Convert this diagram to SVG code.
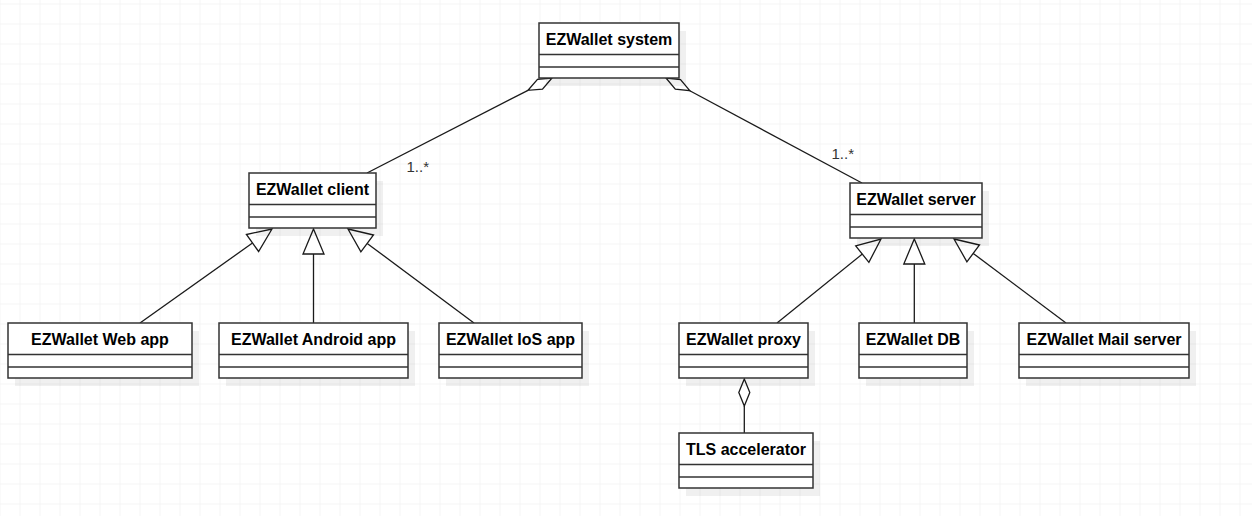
<svg xmlns="http://www.w3.org/2000/svg" width="1252" height="516" viewBox="0 0 1252 516">
<defs>
<pattern id="grid" x="19.5" y="3.5" width="20" height="20" patternUnits="userSpaceOnUse">
<path d="M0 0H20M0 0V20" fill="none" stroke="#ebebeb" stroke-width="1"/>
</pattern>
<style>
.box{fill:#fff;stroke:#333;stroke-width:1.5}
.shadow{fill:#000;fill-opacity:0.06}
.div{stroke:#333;stroke-width:1.5}
.t{font-family:"Liberation Sans",Arial,sans-serif;font-size:16px;font-weight:bold;fill:#000;text-anchor:middle}
.lbl{font-family:"Liberation Sans",Arial,sans-serif;font-size:15px;fill:#333}
.ln{fill:none;stroke:#1a1a1a;stroke-width:1.3}
.head{fill:#fff;stroke:#1a1a1a;stroke-width:1.3;stroke-linejoin:miter}
</style>
</defs>
<rect x="0" y="0" width="1252" height="516" fill="#fff"/>
<rect x="0" y="0" width="1252" height="516" fill="url(#grid)"/>

<g id="connectors">
<!-- aggregation system - client -->
<line class="ln" x1="367" y1="173" x2="528" y2="90.3"/>
<polygon class="head" points="552,78 537.5,79.3 528,90.3 542.5,89.1"/>
<!-- aggregation system - server -->
<line class="ln" x1="862" y1="183" x2="689.8" y2="90.7"/>
<polygon class="head" points="666,78 680.5,79.6 689.8,90.7 675.3,89.2"/>
<!-- generalization to client -->
<line class="ln" x1="140" y1="323" x2="252.5" y2="243"/>
<polygon class="head" points="272,229 258.6,251.5 246.4,234.5"/>
<line class="ln" x1="313.5" y1="323" x2="313.5" y2="254"/>
<polygon class="head" points="313.5,229 324,254 303,254"/>
<line class="ln" x1="474" y1="323" x2="367.2" y2="243.4"/>
<polygon class="head" points="348,229 373.5,235 360.9,251.8"/>
<!-- generalization to server -->
<line class="ln" x1="777" y1="323" x2="862.3" y2="254.1"/>
<polygon class="head" points="881,239 868.9,262.3 855.7,245.9"/>
<line class="ln" x1="914.3" y1="323" x2="914.3" y2="264"/>
<polygon class="head" points="914.3,239 924.8,264 903.8,264"/>
<line class="ln" x1="1066" y1="323" x2="973.2" y2="253.4"/>
<polygon class="head" points="954,239 979.5,245 966.9,261.8"/>
<!-- aggregation proxy - TLS -->
<line class="ln" x1="744.3" y1="406" x2="744.3" y2="433"/>
<polygon class="head" points="744.3,379 749.8,392.5 744.3,406 738.8,392.5"/>
<text class="lbl" x="406.5" y="171.5">1..*</text>
<text class="lbl" x="831.5" y="158.5">1..*</text>
</g>

<g id="system">
<rect class="shadow" x="546" y="31" width="140" height="55"/>
<rect class="box" x="539" y="23" width="140" height="55"/>
<line class="div" x1="539" y1="54.5" x2="679" y2="54.5"/><line class="div" x1="539" y1="67" x2="679" y2="67"/>
<text class="t" x="609" y="44.5">EZWallet system</text>
</g>
<g id="client">
<rect class="shadow" x="256" y="181" width="127" height="55"/>
<rect class="box" x="249" y="173" width="127" height="55"/>
<line class="div" x1="249" y1="204.5" x2="376" y2="204.5"/><line class="div" x1="249" y1="217" x2="376" y2="217"/>
<text class="t" x="312.5" y="194.5">EZWallet client</text>
</g>
<g id="server">
<rect class="shadow" x="857" y="191" width="132" height="55"/>
<rect class="box" x="850" y="183" width="132" height="55"/>
<line class="div" x1="850" y1="214.5" x2="982" y2="214.5"/><line class="div" x1="850" y1="227" x2="982" y2="227"/>
<text class="t" x="916" y="204.5">EZWallet server</text>
</g>
<g id="webapp">
<rect class="shadow" x="15" y="331" width="184" height="55"/>
<rect class="box" x="8" y="323" width="184" height="55"/>
<line class="div" x1="8" y1="354.5" x2="192" y2="354.5"/><line class="div" x1="8" y1="367" x2="192" y2="367"/>
<text class="t" x="100" y="344.5">EZWallet Web app</text>
</g>
<g id="androidapp">
<rect class="shadow" x="226" y="331" width="189" height="55"/>
<rect class="box" x="219" y="323" width="189" height="55"/>
<line class="div" x1="219" y1="354.5" x2="408" y2="354.5"/><line class="div" x1="219" y1="367" x2="408" y2="367"/>
<text class="t" x="313.5" y="344.5">EZWallet Android app</text>
</g>
<g id="iosapp">
<rect class="shadow" x="446" y="331" width="143" height="55"/>
<rect class="box" x="439" y="323" width="143" height="55"/>
<line class="div" x1="439" y1="354.5" x2="582" y2="354.5"/><line class="div" x1="439" y1="367" x2="582" y2="367"/>
<text class="t" x="510.5" y="344.5">EZWallet IoS app</text>
</g>
<g id="proxy">
<rect class="shadow" x="686" y="331" width="129" height="55"/>
<rect class="box" x="679" y="323" width="129" height="55"/>
<line class="div" x1="679" y1="354.5" x2="808" y2="354.5"/><line class="div" x1="679" y1="367" x2="808" y2="367"/>
<text class="t" x="743.5" y="344.5">EZWallet proxy</text>
</g>
<g id="db">
<rect class="shadow" x="866" y="331" width="108" height="55"/>
<rect class="box" x="859" y="323" width="108" height="55"/>
<line class="div" x1="859" y1="354.5" x2="967" y2="354.5"/><line class="div" x1="859" y1="367" x2="967" y2="367"/>
<text class="t" x="913" y="344.5">EZWallet DB</text>
</g>
<g id="mailserver">
<rect class="shadow" x="1026" y="331" width="170" height="55"/>
<rect class="box" x="1019" y="323" width="170" height="55"/>
<line class="div" x1="1019" y1="354.5" x2="1189" y2="354.5"/><line class="div" x1="1019" y1="367" x2="1189" y2="367"/>
<text class="t" x="1104" y="344.5">EZWallet Mail server</text>
</g>
<g id="tls">
<rect class="shadow" x="686" y="441" width="134" height="55"/>
<rect class="box" x="679" y="433" width="134" height="55"/>
<line class="div" x1="679" y1="464.5" x2="813" y2="464.5"/><line class="div" x1="679" y1="477" x2="813" y2="477"/>
<text class="t" x="746" y="454.5">TLS accelerator</text>
</g>
</svg>
